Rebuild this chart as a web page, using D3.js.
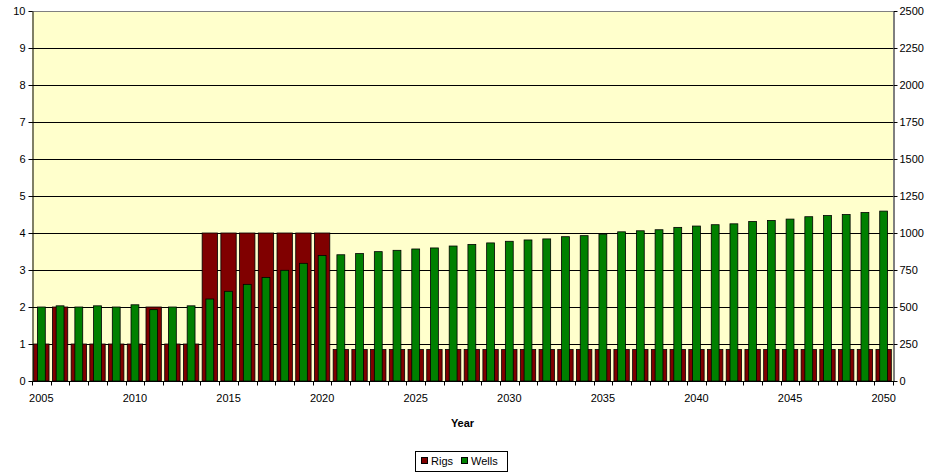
<!DOCTYPE html>
<html>
<head>
<meta charset="utf-8">
<script src="https://cdn.jsdelivr.net/npm/d3@7"></script>
<style>
  html, body { margin: 0; padding: 0; background: #ffffff; }
  svg { display: block; font-family: Arial, "Liberation Sans", sans-serif; }
</style>
</head>
<body>
<svg id="chart" width="933" height="475"></svg>
<script>
// Categories: one per year
const years = d3.range(2005, 2051);

// Number of rigs (left axis)
const rigs = [
  1, 2, 1, 1, 1, 1, 2, 1, 1,
  4, 4, 4, 4, 4, 4, 4,
  0.85, 0.85, 0.85, 0.85, 0.85, 0.85, 0.85, 0.85, 0.85, 0.85,
  0.85, 0.85, 0.85, 0.85, 0.85, 0.85, 0.85, 0.85, 0.85, 0.85,
  0.85, 0.85, 0.85, 0.85, 0.85, 0.85, 0.85, 0.85, 0.85, 0.85
];

// Number of wells (right axis)
const wells = [
  500, 508, 500, 508, 500, 515, 482, 500, 508,
  554, 606, 653, 700, 748, 795, 848,
  853, 861, 874, 883, 892, 899, 912, 923, 933, 944,
  953, 960, 975, 982, 992, 1008, 1015, 1022, 1038, 1047,
  1056, 1062, 1078, 1085, 1094, 1110, 1118, 1125, 1138, 1148
];

// Axis ticks and labels
const leftTicks = d3.range(0, 11, 1);
const rightTicks = d3.range(0, 2501, 250);
const yearLabels = [2005, 2010, 2015, 2020, 2025, 2030, 2035, 2040, 2045, 2050];

const seriesNames = ["Rigs", "Wells"];
const seriesColors = ["#800000", "#008000"];

const svg = d3.select("#chart");
const plot = { left: 32, right: 893, top: 11, bottom: 381 };

const x = d3.scaleBand().domain(years).range([plot.left, plot.right]).padding(0);
const yL = d3.scaleLinear().domain([0, 10]).range([plot.bottom, plot.top]);
const yR = d3.scaleLinear().domain([0, 2500]).range([plot.bottom, plot.top]);

// Plot background
svg.append("rect")
  .attr("x", plot.left).attr("y", plot.top)
  .attr("width", plot.right - plot.left).attr("height", plot.bottom - plot.top)
  .attr("fill", "#ffffcc");

// Horizontal gridlines from the left axis
svg.append("g").selectAll("line")
  .data(leftTicks.filter(d => d > 0))
  .join("line")
  .attr("x1", plot.left).attr("x2", plot.right)
  .attr("y1", d => Math.round(yL(d)) + 0.5).attr("y2", d => Math.round(yL(d)) + 0.5)
  .attr("stroke", d => d === 10 ? "#808080" : "#000000")
  .attr("stroke-width", 1);

// Bars
const bw = x.bandwidth();
const rigW = bw * 0.82;
const wellW = bw * 0.42;

svg.append("g").selectAll("rect")
  .data(years.map((y, i) => ({ year: y, v: rigs[i] })))
  .join("rect")
  .attr("x", d => x(d.year) + (bw - rigW) / 2)
  .attr("y", d => yL(d.v))
  .attr("width", rigW)
  .attr("height", d => yL(0) - yL(d.v))
  .attr("fill", seriesColors[0])
  .attr("stroke", "#000000")
  .attr("stroke-width", 0.8);

svg.append("g").selectAll("rect")
  .data(years.map((y, i) => ({ year: y, v: wells[i] })))
  .join("rect")
  .attr("x", d => x(d.year) + (bw - wellW) / 2)
  .attr("y", d => yR(d.v))
  .attr("width", wellW)
  .attr("height", d => yR(0) - yR(d.v))
  .attr("fill", seriesColors[1])
  .attr("stroke", "#000000")
  .attr("stroke-width", 0.8);

// Left axis
const leftAxis = svg.append("g")
  .attr("transform", `translate(${plot.left + 0.5},0)`)
  .call(d3.axisLeft(yL).tickValues(leftTicks).tickFormat(d3.format("d"))
    .tickSize(4).tickPadding(3).tickSizeOuter(0));

// Right axis
const rightAxis = svg.append("g")
  .attr("transform", `translate(${plot.right + 0.5},0)`)
  .call(d3.axisRight(yR).tickValues(rightTicks).tickFormat(d3.format("d"))
    .tickSize(4).tickPadding(2).tickSizeOuter(0));

// Bottom axis: ticks on category boundaries, labels every five years
const xb = svg.append("g").attr("transform", `translate(0,${plot.bottom + 0.5})`);
xb.append("line")
  .attr("x1", plot.left).attr("x2", plot.right + 1)
  .attr("stroke", "#000000");
xb.selectAll("line.tick")
  .data(years.concat([null]))
  .join("line")
  .attr("class", "tick")
  .attr("x1", (d, i) => Math.round(plot.left + i * bw) + 0.5)
  .attr("x2", (d, i) => Math.round(plot.left + i * bw) + 0.5)
  .attr("y1", 0).attr("y2", 4)
  .attr("stroke", "#000000");
xb.selectAll("text")
  .data(yearLabels)
  .join("text")
  .attr("x", d => x(d) + bw / 2)
  .attr("y", 20)
  .attr("text-anchor", "middle")
  .attr("font-size", 11)
  .attr("fill", "#000000")
  .text(d => d);

[leftAxis, rightAxis].forEach(g => {
  g.selectAll("path").attr("stroke", "#000000");
  g.selectAll("line").attr("stroke", "#000000");
  g.selectAll("text").attr("font-size", 11).attr("fill", "#000000")
    .attr("font-family", "Arial, 'Liberation Sans', sans-serif");
});

// Axis title
svg.append("text")
  .attr("x", (plot.left + plot.right) / 2)
  .attr("y", 427)
  .attr("text-anchor", "middle")
  .attr("font-size", 11)
  .attr("font-weight", "bold")
  .text("Year");

// Legend
const legend = svg.append("g");
legend.append("rect")
  .attr("x", 415.5).attr("y", 451.5).attr("width", 92).attr("height", 20)
  .attr("fill", "#ffffff").attr("stroke", "#000000");
const legendItems = [
  { name: seriesNames[0], color: seriesColors[0], sx: 421, tx: 431 },
  { name: seriesNames[1], color: seriesColors[1], sx: 461, tx: 471 }
];
legend.selectAll("rect.sw")
  .data(legendItems)
  .join("rect")
  .attr("class", "sw")
  .attr("x", d => d.sx + 0.5).attr("y", 457.5)
  .attr("width", 6).attr("height", 6)
  .attr("fill", d => d.color).attr("stroke", "#000000");
legend.selectAll("text")
  .data(legendItems)
  .join("text")
  .attr("x", d => d.tx)
  .attr("y", 465)
  .attr("font-size", 11)
  .text(d => d.name);
</script>
</body>
</html>
